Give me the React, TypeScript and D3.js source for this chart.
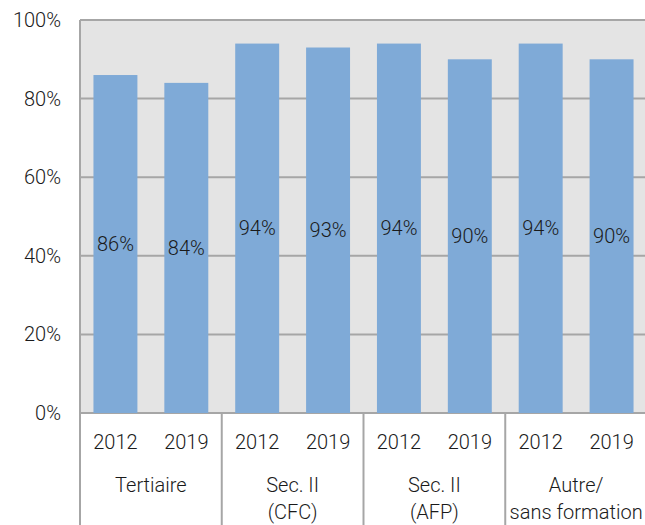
import { useEffect, useRef } from 'react';
import * as d3 from 'd3';

const groups = ['Tertiaire', 'Sec. II\n(CFC)', 'Sec. II\n(AFP)', 'Autre/\nsans formation'];
const years = ['2012', '2019'];
const values2012 = [86, 94, 94, 94];
const values2019 = [84, 93, 90, 90];
const yTicks = [0, 20, 40, 60, 80, 100];

const App = () => {
  const svgRef = useRef<SVGSVGElement>(null);

  useEffect(() => {
    if (!svgRef.current) return;
    const width = 645;
    const height = 525;
    const left = 80, right = 647, top = 20, bottom = 413;

    const svg = d3.select(svgRef.current);
    svg.selectAll('*').remove();

    // une ligne par barre
    const rows = groups.flatMap((g, gi) => [
      { key: `${gi}-0`, group: g, year: years[0], value: values2012[gi] },
      { key: `${gi}-1`, group: g, year: years[1], value: values2019[gi] }
    ]);

    const x = d3.scaleBand()
      .domain(rows.map(d => d.key))
      .range([left, right])
      .paddingInner(0.38)
      .paddingOuter(0.19);
    const xGroup = d3.scaleBand().domain(groups).range([left, right]);
    const y = d3.scaleLinear().domain([0, 100]).range([bottom, top]);

    const font = 'Roboto, sans-serif';
    const fontSize = '20px';
    const grid = '#a6a6a6';

    svg.append('rect')
      .attr('x', left).attr('y', top)
      .attr('width', right - left).attr('height', bottom - top)
      .attr('fill', '#e4e4e4');

    svg.selectAll('line.grid')
      .data(yTicks)
      .enter()
      .append('line')
      .attr('x1', left).attr('x2', right)
      .attr('y1', d => y(d)).attr('y2', d => y(d))
      .attr('stroke', grid).attr('stroke-width', 2);

    svg.selectAll('text.ytick')
      .data(yTicks)
      .enter()
      .append('text')
      .attr('x', 61)
      .attr('y', d => y(d))
      .attr('dy', '0.35em')
      .attr('text-anchor', 'end')
      .style('font-family', font)
      .style('font-weight', 300)
      .style('font-size', fontSize)
      .style('fill', '#1a1a1a')
      .text(d => `${d}%`);

    svg.selectAll('rect.bar')
      .data(rows)
      .enter()
      .append('rect')
      .attr('x', d => x(d.key)!)
      .attr('y', d => y(d.value))
      .attr('width', x.bandwidth())
      .attr('height', d => y(0) - y(d.value))
      .attr('fill', '#7faad7');

    // étiquettes dans les barres
    svg.selectAll('text.val')
      .data(rows)
      .enter()
      .append('text')
      .attr('x', d => x(d.key)! + x.bandwidth() / 2)
      .attr('y', d => (y(d.value) + y(0)) / 2)
      .attr('dy', '0.35em')
      .attr('text-anchor', 'middle')
      .style('font-family', font)
      .style('font-weight', 300)
      .style('font-size', fontSize)
      .style('fill', '#1a1a1a')
      .text(d => `${d.value}%`);

    // axe gauche et séparateurs
    svg.append('line')
      .attr('x1', left).attr('x2', left)
      .attr('y1', top).attr('y2', height)
      .attr('stroke', grid).attr('stroke-width', 2);

    svg.selectAll('line.sep')
      .data(groups.slice(1))
      .enter()
      .append('line')
      .attr('x1', d => xGroup(d)!).attr('x2', d => xGroup(d)!)
      .attr('y1', bottom).attr('y2', height)
      .attr('stroke', grid).attr('stroke-width', 2);

    svg.selectAll('text.year')
      .data(rows)
      .enter()
      .append('text')
      .attr('x', d => x(d.key)! + x.bandwidth() / 2)
      .attr('y', 442)
      .attr('dy', '0.35em')
      .attr('text-anchor', 'middle')
      .style('font-family', font)
      .style('font-weight', 300)
      .style('font-size', fontSize)
      .style('fill', '#1a1a1a')
      .text(d => d.year);

    const gl = svg.selectAll('text.group')
      .data(groups)
      .enter()
      .append('text')
      .attr('text-anchor', 'middle')
      .style('font-family', font)
      .style('font-weight', 300)
      .style('font-size', fontSize)
      .style('fill', '#1a1a1a');

    gl.selectAll('tspan')
      .data(g => g.split('\n').map(line => ({ line, g })))
      .enter()
      .append('tspan')
      .attr('x', d => xGroup(d.g)! + xGroup.bandwidth() / 2)
      .attr('y', (_, i) => 485 + i * 27)
      .attr('dy', '0.35em')
      .text(d => d.line);

    svg.attr('width', width).attr('height', height);
  }, []);

  return (
    <svg ref={svgRef} width={645} height={525}
      style={{ position: 'absolute', left: 0, top: 0, display: 'block' }} />
  );
};

export default App;
